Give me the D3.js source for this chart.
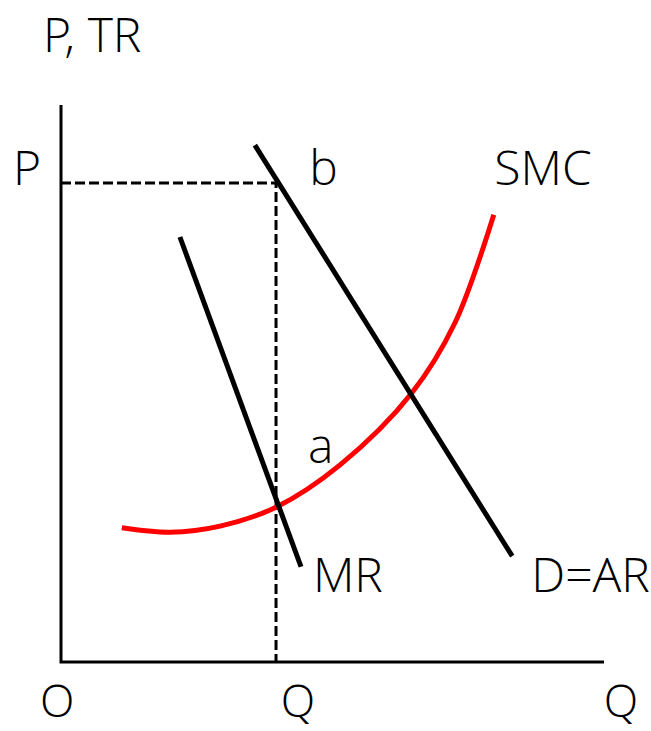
<!DOCTYPE html>
<html>
<head>
<meta charset="utf-8">
<script src="https://cdn.jsdelivr.net/npm/d3@7"></script>
<style>
  body { margin: 0; background: #fff; }
  text { font-family: "Open Sans Light", "Lato Light", "Open Sans", "Noto Sans", sans-serif; font-weight: 300; fill: #000; }
</style>
</head>
<body>
<script>
const width = 651
const height = 731

// curve data (quantity, price) in 0..100 units
const demand = [[35.7, 92.8], [83.1, 19.0]];
const marginalRevenue = [[21.9, 76.3], [44.2, 17.1]];
const smc = [[11.2, 24.1], [20.1, 23.3], [29.3, 24.4], [39.6, 27.8], [51.4, 35.4],
             [64.6, 48.3], [72.6, 61.0], [79.7, 80.3]];

// equilibrium price / quantity
const priceP = 86.0;
const quantityQ = 39.6;

// labels: [text, x, baseline y]
const curveLabels = [
    ["b", 45.7, 85.6],
    ["SMC", 79.8, 85.6],
    ["a", 45.5, 35.7],
    ["MR", 46.4, 12.6],
    ["D=AR", 86.6, 12.6]
];

const svg = d3.select("body").append("svg")
    .attr("width", width)
    .attr("height", height);

const x = d3.scaleLinear().domain([0, 100]).range([61, 604]);
const y = d3.scaleLinear().domain([0, 100]).range([662, 105]);

const line = d3.line()
    .x(d => x(d[0]))
    .y(d => y(d[1]));

// axes
svg.append("path")
    .attr("d", line([[0, 100], [0, 0], [100, 0]]))
    .attr("fill", "none")
    .attr("stroke", "#000")
    .attr("stroke-width", 3);

// dashed guides
svg.append("path")
    .attr("d", line([[0, priceP], [quantityQ, priceP], [quantityQ, 0]]))
    .attr("fill", "none")
    .attr("stroke", "#000")
    .attr("stroke-width", 3)
    .attr("stroke-dasharray", "10,4");

// SMC
svg.append("path")
    .attr("d", line.curve(d3.curveCatmullRom)(smc))
    .attr("fill", "none")
    .attr("stroke", "#ff0000")
    .attr("stroke-width", 5);

line.curve(d3.curveLinear);

svg.append("path")
    .attr("d", line(marginalRevenue))
    .attr("fill", "none")
    .attr("stroke", "#000")
    .attr("stroke-width", 5);

svg.append("path")
    .attr("d", line(demand))
    .attr("fill", "none")
    .attr("stroke", "#000")
    .attr("stroke-width", 5);

// axis titles
svg.append("text").attr("x", 43).attr("y", 52).attr("font-size", 48).text("P, TR");
svg.append("text").attr("x", 13).attr("y", 185).attr("font-size", 48).text("P");
svg.append("text").attr("x", 40).attr("y", 717).attr("font-size", 45).text("O");
svg.append("text").attr("x", x(quantityQ) + 22).attr("y", 717).attr("font-size", 45)
    .attr("text-anchor", "middle").text("Q");
svg.append("text").attr("x", 621).attr("y", 717).attr("font-size", 45)
    .attr("text-anchor", "middle").text("Q");

svg.selectAll(".lbl")
    .data(curveLabels)
    .enter()
    .append("text")
    .attr("class", "lbl")
    .attr("x", d => x(d[1]))
    .attr("y", d => y(d[2]))
    .attr("font-size", 48)
    .text(d => d[0]);
</script>
</body>
</html>
